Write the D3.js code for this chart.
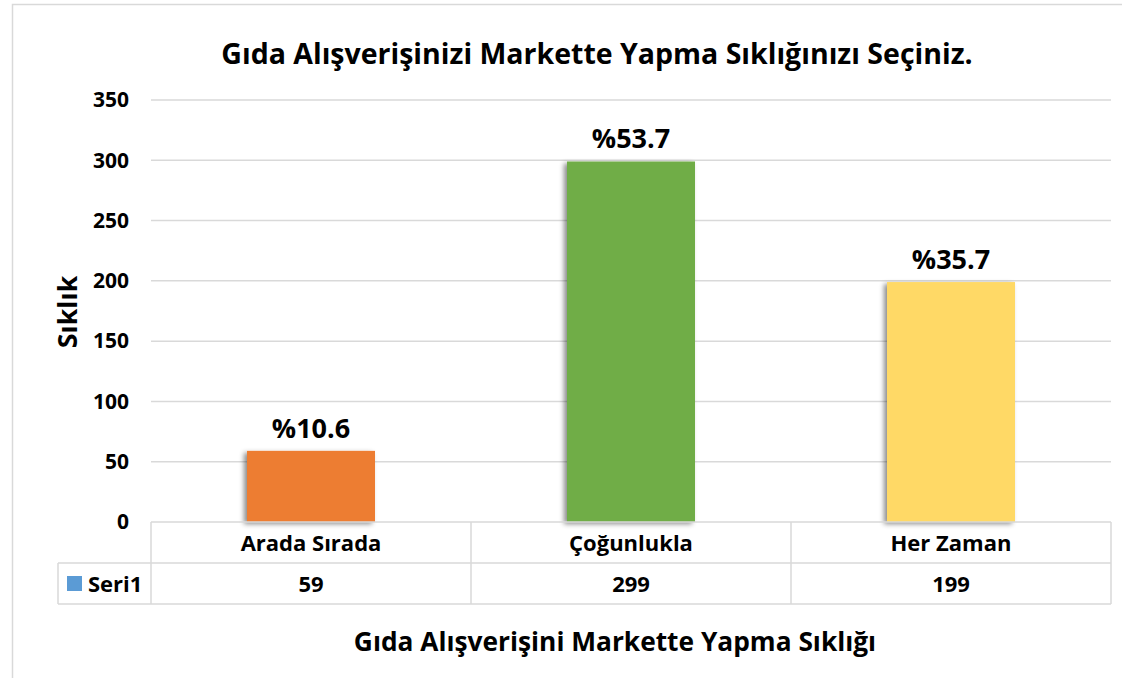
<!DOCTYPE html>
<html><head><meta charset="utf-8">
<script src="https://cdn.jsdelivr.net/npm/d3@7"></script>
<style>body{margin:0;background:#fff}svg{display:block}text{font-family:"Open Sans","Noto Sans",sans-serif;font-weight:bold;fill:#000}</style>
</head><body>
<svg id="c" width="1122" height="678"></svg>
<script>
const categories = ["Arada Sırada", "Çoğunlukla", "Her Zaman"];
const values = [59, 299, 199];
const percentLabels = ["%10.6", "%53.7", "%35.7"];
const colors = ["#ED7D31", "#70AD47", "#FFD966"];
const yTicks = [0, 50, 100, 150, 200, 250, 300, 350];
const seriesName = "Seri1";
const title = "Gıda Alışverişinizi Markette Yapma Sıklığınızı Seçiniz.";
const xTitle = "Gıda Alışverişini Markette Yapma Sıklığı";
const yTitle = "Sıklık";

const svg = d3.select("#c");
const defs = svg.append("defs");
const f = defs.append("filter").attr("id","sh").attr("x","-20%").attr("y","-5%").attr("width","140%").attr("height","115%");
f.append("feDropShadow").attr("dx",-3).attr("dy",2).attr("stdDeviation",2.5).attr("flood-color","#000").attr("flood-opacity",0.45);

// chart border
svg.append("path").attr("d","M12.5,678 L12.5,4.5 L1122,4.5").attr("fill","none").attr("stroke","#d9d9d9").attr("stroke-width",1.5);

const L = 151, R = 1111, T = 100, B = 522;
const x = d3.scaleBand().domain(categories).range([L, R]).paddingInner(0.6).paddingOuter(0.3);
const xb = d3.scaleBand().domain(categories).range([L, R]);
const y = d3.scaleLinear().domain([0, 350]).range([B, T]);

// gridlines
svg.append("g").selectAll("line").data(yTicks.filter(d=>d>0)).join("line")
  .attr("x1",L).attr("x2",R).attr("y1",d=>y(d)).attr("y2",d=>y(d))
  .attr("stroke","#d9d9d9").attr("stroke-width",1.5);

// y axis labels
const yAxis = d3.axisLeft(y).tickValues(yTicks).tickSize(0).tickPadding(22);
const ga = svg.append("g").attr("transform",`translate(${L},0)`).call(yAxis);
ga.select(".domain").remove();
ga.selectAll("text").attr("font-size",21).attr("font-family","Open Sans").attr("font-weight","bold").attr("fill","#000");

// bars
svg.append("g").selectAll("rect").data(values).join("rect")
  .attr("x",(d,i)=>x(categories[i])).attr("width",x.bandwidth())
  .attr("y",d=>y(d)).attr("height",d=>B-y(d))
  .attr("fill",(d,i)=>colors[i]).attr("filter","url(#sh)");

// data labels
svg.append("g").selectAll("text").data(values).join("text")
  .attr("x",(d,i)=>x(categories[i])+x.bandwidth()/2).attr("y",d=>y(d)-13)
  .attr("text-anchor","middle").attr("font-size",27).text((d,i)=>percentLabels[i]);

// data table
const rowH1 = 41, rowH2 = 41, legL = 58;
const tg = svg.append("g").attr("stroke","#d9d9d9").attr("stroke-width",1.5).attr("fill","none");
tg.append("line").attr("x1",L).attr("x2",R).attr("y1",B).attr("y2",B);
tg.append("line").attr("x1",legL).attr("x2",R).attr("y1",B+rowH1).attr("y2",B+rowH1);
tg.append("line").attr("x1",legL).attr("x2",R).attr("y1",B+rowH1+rowH2).attr("y2",B+rowH1+rowH2);
tg.append("line").attr("x1",legL).attr("x2",legL).attr("y1",B+rowH1).attr("y2",B+rowH1+rowH2);
[L, ...categories.map(c=>xb(c)+xb.bandwidth())].forEach(xx=>{
  tg.append("line").attr("x1",xx).attr("x2",xx).attr("y1",B).attr("y2",B+rowH1+rowH2);
});
svg.append("g").selectAll("text").data(categories).join("text")
  .attr("x",d=>xb(d)+xb.bandwidth()/2).attr("y",551)
  .attr("text-anchor","middle").attr("font-size",22).text(d=>d);
svg.append("g").selectAll("text").data(values).join("text")
  .attr("x",(d,i)=>xb(categories[i])+xb.bandwidth()/2).attr("y",592)
  .attr("text-anchor","middle").attr("font-size",22).text(d=>d);
svg.append("rect").attr("x",67).attr("y",576).attr("width",15).attr("height",15).attr("fill","#5B9BD5");
svg.append("text").attr("x",88).attr("y",592).attr("font-size",22).text(seriesName);

// titles
svg.append("text").attr("x",597).attr("y",64).attr("text-anchor","middle").attr("font-size",28.5).text(title);
svg.append("text").attr("x",615).attr("y",651).attr("text-anchor","middle").attr("font-size",26.3).text(xTitle);
svg.append("text").attr("transform","translate(77,312) rotate(-90)").attr("text-anchor","middle").attr("font-size",26.8).text(yTitle);
</script>
</body></html>
